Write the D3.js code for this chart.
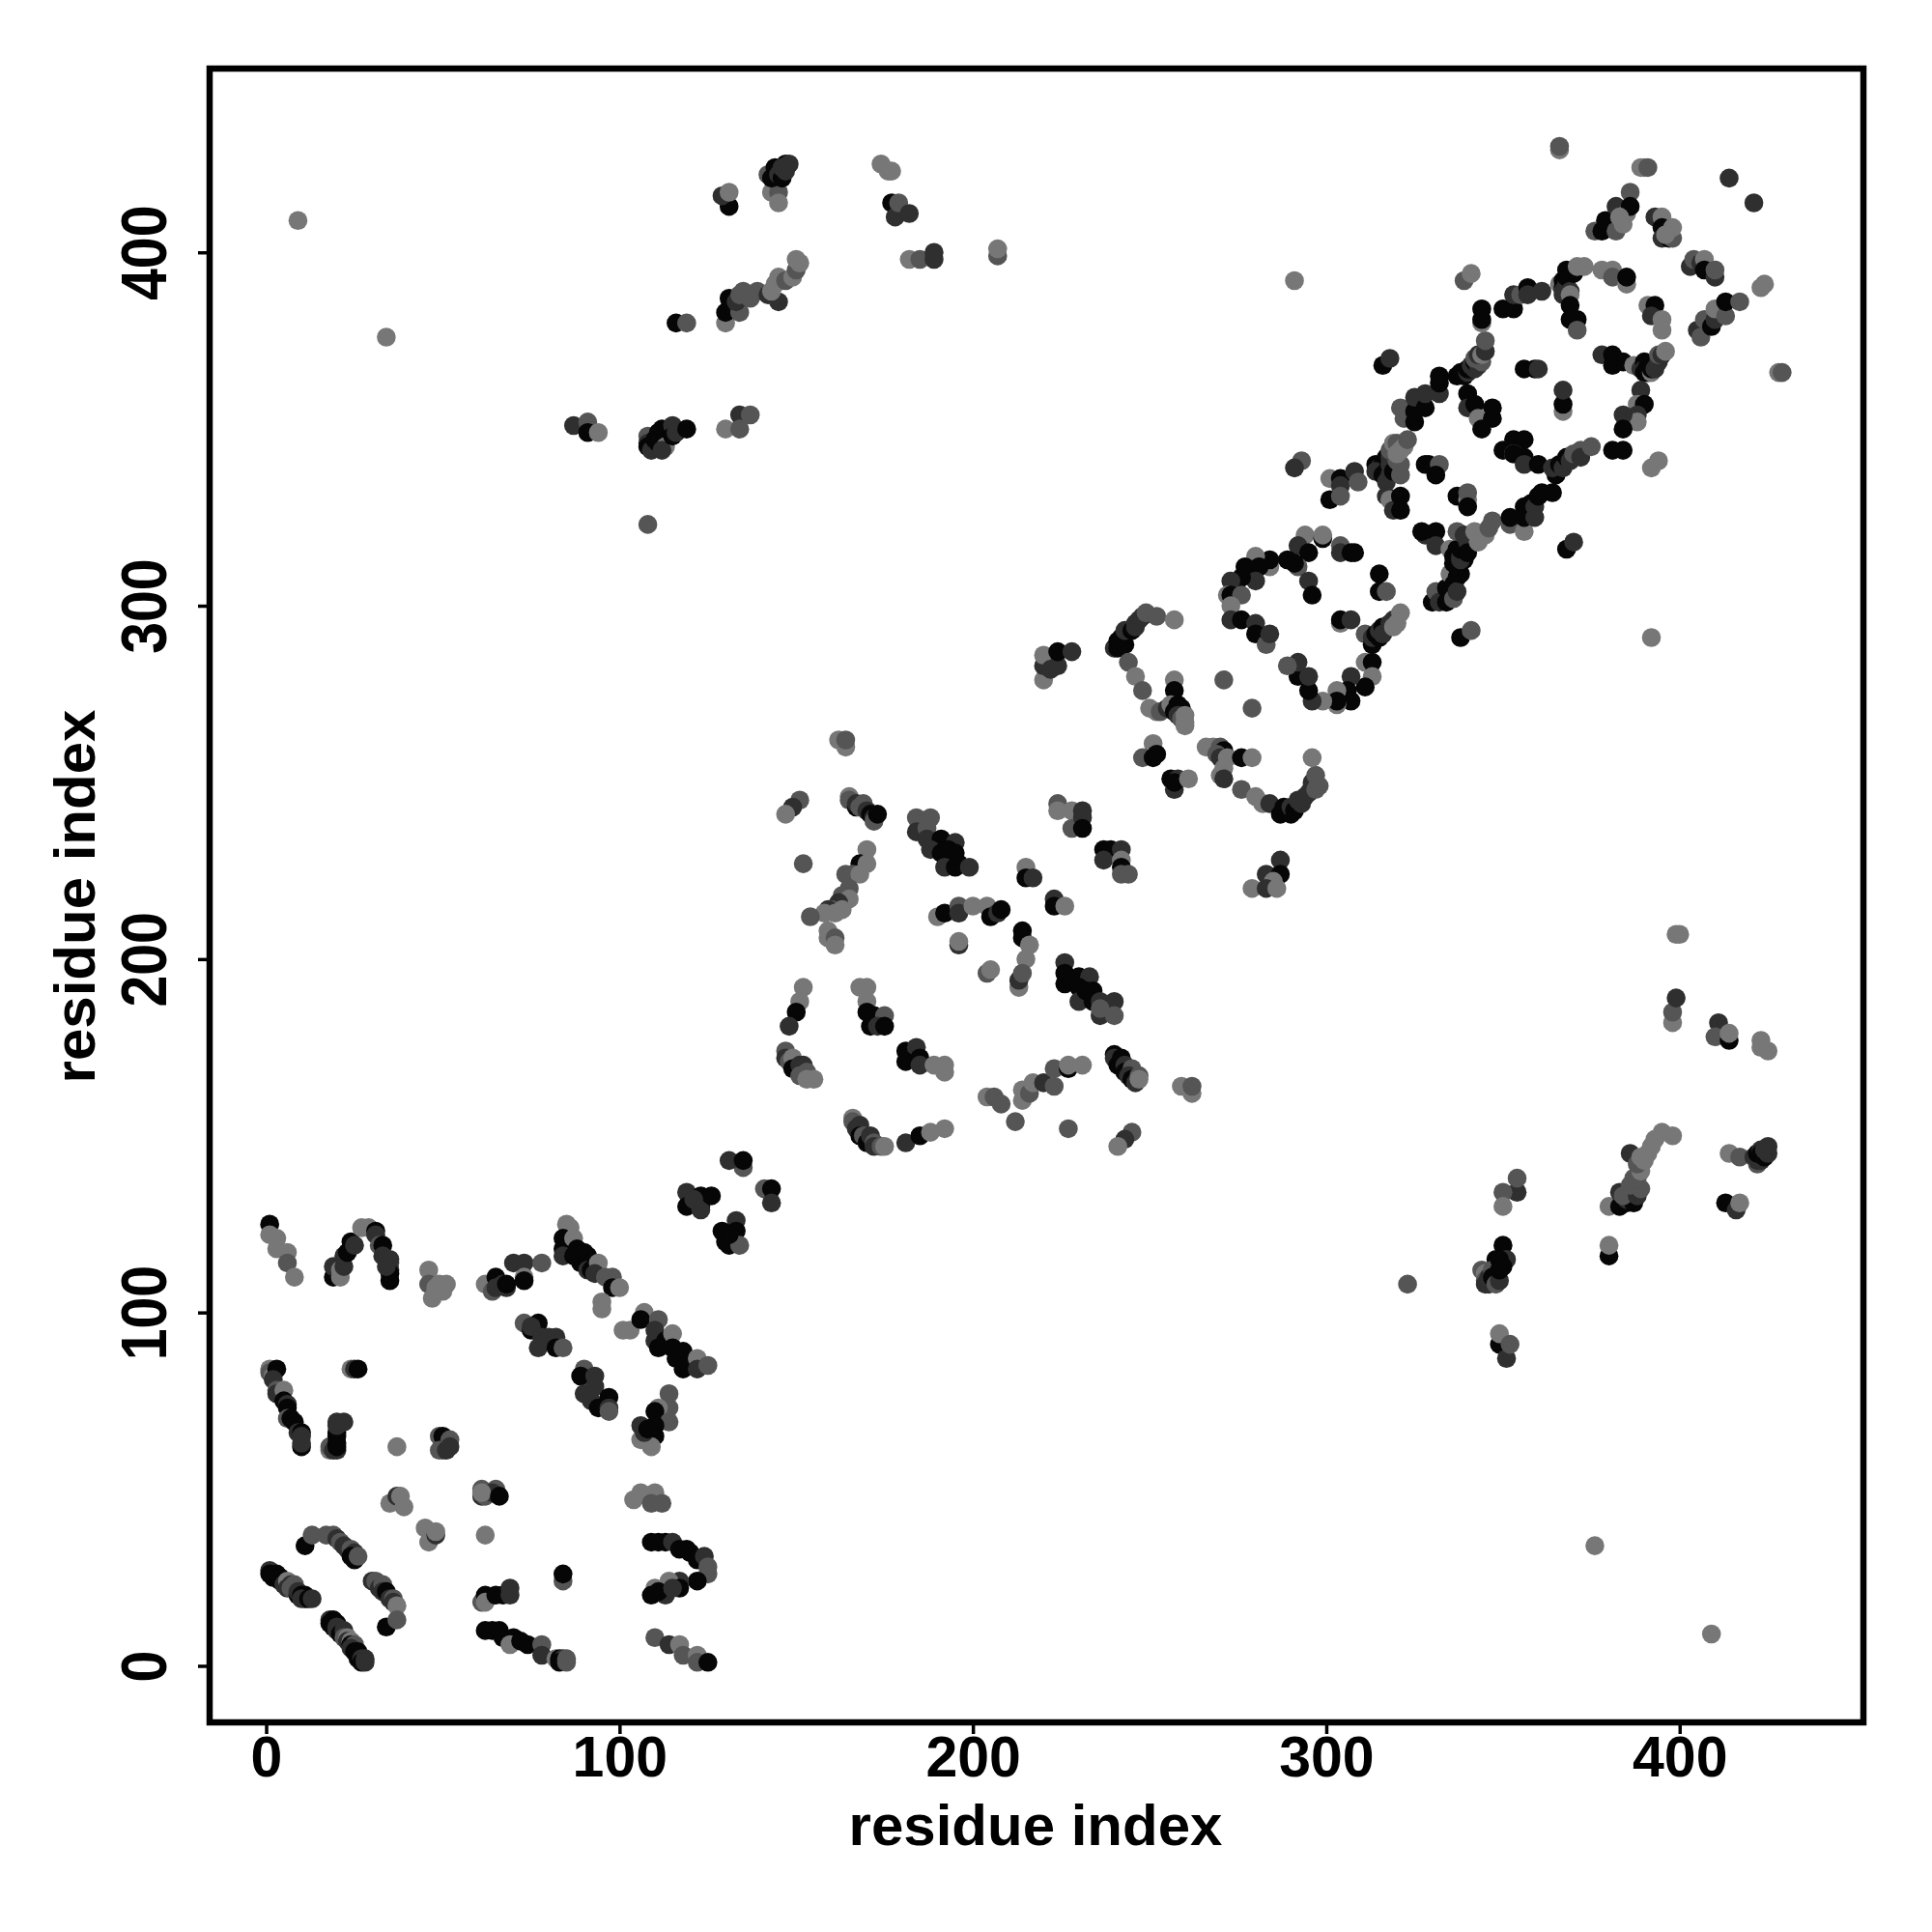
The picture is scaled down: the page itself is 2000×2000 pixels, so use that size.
<!DOCTYPE html>
<html><head><meta charset="utf-8">
<script src="https://cdn.jsdelivr.net/npm/d3@7"></script>
<style>html,body{margin:0;padding:0;background:#fff}svg{display:block}text{font-family:"Liberation Sans",Arial,sans-serif;font-weight:700;fill:#000}</style>
</head><body><div id="chart"></div>
<script>
// Each contact is [residue i, residue j, shade level 0 (darkest) .. 3 (lightest)]
const bottomLeft1=[[1,27,1],[1,26,0],[2,25,0],[3,26,0],[4,24,0],[4,25,0],[5,23,1],[6,24,3],[6,22,1],[7,23,1],[7,22,2],[8,23,2],[9,20,0],[9,21,1],[10,20,0],[11,20,0],[11,19,0],[10,19,1],[12,19,0],[13,19,1],
[18,13,1],[18,12,0],[19,13,0],[19,11,0],[20,12,0],[20,11,1],[20,10,1],[21,9,0],[22,9,0],[22,10,1],[22,8,2],[23,8,3],[23,7,1],[24,7,3],[24,6,0],[25,6,2],[24,5,1],[25,4,0],[26,4,0],[26,3,0],[26,2,0],[27,2,1],[27,1,0],[28,2,1],[28,1,1],
[11,34,0],[13,37,2],[17,37,2],[19,37,2],[20,36,1],[21,35,2],[22,34,1],[23,33,1],[24,33,2],[25,32,1],[24,31,0],[25,30,0],[26,31,2],
[30,24,1],[31,24,2],[32,23,2],[32,22,1],[33,23,2],[33,21,1],[34,21,0],[35,19,1],[36,19,2],[36,18,1],[37,17,3],[34,11,0],[37,13,2]];
const bottomLeft2=[[1,84,3],[1,83,2],[2,82,3],[3,84,0],[2,81,1],[3,78,2],[3,77,1],[5,78,3],[5,75,0],[6,74,1],[6,73,0],[6,70,2],[7,70,0],[8,69,0],[9,66,1],[10,66,0],[10,65,1],[10,62,0],[10,63,1],
[24,84,3],[25,84,1],[26,84,0],[18,61,3],[18,62,2],[19,61,1],[20,61,1],[20,63,0],[20,65,0],[20,66,0],[20,62,0],[20,68,1],[20,69,1],[22,69,1],[37,62,3],
[49,65,2],[50,65,0],[52,64,2],[49,61,2],[50,61,2],[51,61,1],[52,62,1]];
const bottomLeft3=[[1,125,0],[1,122,3],[3,121,3],[3,118,3],[6,117,3],[6,114,2],[8,110,3],
[19,110,0],[19,113,1],[21,112,3],[21,110,3],[22,113,1],[22,116,1],[23,117,0],[24,120,0],[25,119,1],[27,124,3],[29,124,3],[31,123,0],[31,122,1],[32,119,2],[33,119,0],[33,116,1],[35,114,2],[35,115,1],[35,112,1],[35,111,0],[35,109,0],[34,113,1],
[46,112,3],[46,108,2],[48,107,3],[49,108,3],[51,108,3],[47,104,3],[50,106,3],[48,106,3],
[62,108,3],[64,106,2],[65,110,0],[65,107,1],[67,108,1],[68,107,1],[68,108,0],[70,114,1],[73,114,1],[78,114,2],[73,110,3],[73,109,0]];
const bottomLeft4=[[85,125,3],[86,124,3],[84,121,0],[84,118,0],[84,116,1],[87,121,3],[88,118,0],[87,116,0],[89,114,0],[90,117,0],[91,116,0],[91,112,1],[93,113,0],[92,112,0],[94,114,3],[93,111,1],[96,110,2],[98,110,2],[98,107,0],[100,107,3],[95,103,3],[95,101,3],
[73,97,2],[75,95,0],[77,97,0],[75,96,1],[78,93,1],[80,93,1],[82,93,1],[77,90,1],[82,90,0],[84,90,2],
[90,84,2],[89,82,0],[93,82,1],[93,79,1],[90,77,1],[92,75,1],[94,73,0],[97,76,0],[97,73,1],[97,72,2],
[101,95,3],[103,95,3],[107,100,3],[106,98,0],[111,98,2],[110,95,1],[110,92,1],[111,90,0],[113,92,0],[115,94,3],[115,90,0],[118,89,0],[116,87,0],[118,84,0],[119,85,0],[122,87,3],[122,84,1],[125,85,2],
[114,77,2],[114,73,2],[111,73,3],[110,72,0],[114,69,2],[106,68,1],[110,68,0],[110,65,0],[106,64,3],[109,62,3],[107,66,1],[108,67,0]];
const bottomLeft5=[[35,46,3],[37,48,1],[38,48,3],[39,45,3],[45,39,3],[46,35,3],[48,37,1],[48,38,3],
[61,50,2],[61,48,1],[62,48,2],[65,50,2],[64,49,1],[61,49,3],[66,48,0],[62,37,3],
[61,18,2],[62,20,0],[62,18,3],[65,20,0],[67,20,0],[69,22,1],[69,20,1],[84,24,2],[84,26,0],
[62,10,0],[64,10,0],[66,10,0],[67,8,0],[70,8,0],[69,6,3],[72,7,0],[74,6,0],[78,6,2],[78,3,1],[82,2,3],[83,2,0],[84,2,1],[83,1,0],[85,2,2],[85,1,2],
[109,35,0],[111,35,0],[113,35,0],[115,35,1],[117,33,0],[119,33,0],[120,32,0],[122,30,0],[124,31,1],[125,28,2],[125,26,2],[122,24,0],[117,24,1],[114,24,3],[110,22,3],[117,22,0],[113,20,1],[109,20,0],[111,21,0],[115,22,1],
[110,8,2],[114,6,1],[117,6,3],[118,3,2],[122,3,3],[122,1,2],[125,1,0],
[104,47,3],[106,49,3],[110,49,3],[109,46,2],[112,46,2]];
const middleBand=[[119,134,1],[119,130,0],[123,133,0],[123,130,0],[123,129,1],[126,133,0],[121,132,1],[135,141,2],[131,143,1],[135,143,0],[141,135,2],[143,135,0],[143,131,1],
[133,126,1],[129,123,0],[133,123,0],[130,120,0],[131,119,0],[134,119,2],[131,122,0]];
const domainCentre1=[[164,260,3],[162,262,3],[164,262,2],[151,245,2],[149,243,1],[147,241,3],
[165,246,3],[165,245,2],[167,243,0],[167,244,1],[168,243,2],[169,244,2],[170,242,1],[171,241,0],[172,240,1],[172,239,2],[173,241,0],
[152,227,2],[170,231,3],[168,227,0],[170,227,3],[164,224,2],[166,224,2],[168,224,3],[165,220,2],[163,218,2],[165,217,3],[162,216,1],[160,214,2],[159,214,1],[158,213,3],[161,213,3],[163,214,3],[154,212,2],
[159,208,3],[159,206,3],[161,206,2],[161,204,3],
[184,240,2],[188,240,2],[184,236,1],[187,237,2],[187,234,1],[191,234,0],[195,233,1],[188,231,1],[191,230,0],[193,231,0],[195,230,0],[192,226,1],[195,226,0],[196,227,0],[199,226,1],
[224,244,2],[224,242,3],[228,242,3],[231,242,1],[228,237,2],[231,240,1],[231,237,0],
[237,231,0],[239,231,0],[242,231,1],[237,228,1],[242,228,3],[242,226,0],[242,224,2],[244,224,2],[215,226,3],[215,223,0],[217,223,1]];
const domainCentre2=[[190,212,3],[192,213,0],[196,215,2],[196,213,1],[200,215,3],[204,215,3],[205,212,0],[207,213,1],[208,214,0],[196,204,1],[196,205,3],[204,196,2],[205,197,3],
[223,217,1],[223,215,0],[226,215,3],[214,208,0],[214,206,0],[216,204,3],[215,200,3],[213,192,3],[213,194,1],[214,196,2],
[226,199,1],[226,196,0],[226,193,0],[228,194,0],[230,195,0],[233,195,1],[230,192,0],[230,188,1],[232,191,0],[234,191,0],[234,188,0],[236,188,1],[240,188,1],[236,184,1],[240,184,2],[236,186,2],
[152,192,3],[151,188,3],[150,185,0],[148,181,1],[168,192,3],[170,192,3],[170,188,3],[170,185,0],[172,184,0],[175,184,2],[171,181,0],[173,181,1],[175,181,0],
[181,174,0],[184,175,1],[181,171,0],[185,172,0],[185,170,1],[192,168,3],[189,170,3],[192,170,3]];
const domainCentre3=[[147,174,2],[147,172,1],[148,171,2],[149,172,3],[149,169,0],[151,170,1],[152,170,1],[151,167,2],[153,168,2],[153,166,3],[155,166,3],
[204,161,3],[206,161,2],[208,159,2],[214,160,3],[214,163,3],[216,162,2],[217,165,3],[220,165,1],[223,164,2],[223,169,2],[227,169,0],[227,170,3],[231,170,3],
[240,173,0],[240,172,1],[241,170,0],[242,172,0],[243,170,1],[243,168,0],[245,169,2],[244,167,1],[245,166,0],[246,165,1],[247,167,2],[247,166,3],
[259,164,3],[262,162,3],[262,164,2],
[166,155,3],[166,154,2],[167,152,1],[168,153,1],[168,150,0],[169,150,2],[170,148,0],[171,150,1],[172,148,2],[172,147,1],[174,147,2],[175,147,3],
[181,148,1],[185,150,0],[188,151,3],[192,152,3],[212,154,2],[227,152,2],[245,151,2],[243,149,1],[241,147,3]];
const ringLower=[[220,279,3],[220,283,1],[220,286,3],[224,283,1],[222,282,1],[224,287,0],[228,287,1],
[240,288,1],[241,290,0],[241,288,0],[243,289,0],[242,291,0],[243,293,1],[245,293,0],[246,294,1],[246,295,1],[247,296,1],[248,297,1],[249,298,2],[252,297,2],[257,296,3],[244,284,2],[246,280,3],[248,276,2],
[257,279,3],[257,276,0],[250,271,3],[252,270,3],[253,270,2],[255,271,1],[256,272,3],[257,270,0],[258,272,0],[259,271,0],[258,269,1],[259,268,2],[260,269,3],[260,267,3],[260,266,3],
[271,279,2],[279,271,2],[251,261,3],[248,257,2],[251,257,0],[252,258,0],[256,251,0],[258,251,1],[257,248,1],[257,250,0],[261,251,3],
[266,260,3],[268,260,3],[270,260,2],[271,259,0],[269,258,2],[270,257,1],[272,257,3],[271,254,3],[270,252,3],[271,251,1],[276,257,0],[279,257,3],
[276,248,2],[280,246,3],[282,244,3],[284,244,1],[287,241,0],[288,243,0],[290,241,0],[290,243,1],[291,242,0],[292,245,1],[293,244,1],[294,246,1],[295,247,1],[296,249,1],[296,250,1],[297,248,2],[297,252,2],[298,249,2],[296,257,3],
[287,228,1],[283,224,1],[287,224,0],[285,222,3],[279,220,3],[283,220,1],[286,220,3]];
const ringOne=[[294,320,3],[299,319,0],[299,320,3],[292,317,1],[295,315,0],[289,313,0],[292,311,2],[291,312,0],[284,311,3],[284,313,0],[280,314,3],[281,311,0],[277,311,0],[280,307,1],[276,308,0],[273,307,1],[272,303,3],[273,303,0],[276,303,2],[273,300,3],
[273,296,1],[276,296,0],[280,295,1],[280,292,0],[283,289,2],[284,292,1],[295,307,1],[296,303,0],
[304,317,2],[304,315,1],[307,315,0],[308,315,0],[315,309,0],[315,304,0],[317,304,2],[304,295,3],[304,296,0],[307,296,1],
[311,292,2],[313,289,0],[313,291,1],[314,292,0],[315,291,0],[315,293,1],[316,294,0],[316,292,1],[318,295,1],[319,296,1],[319,294,3],[320,295,3],[321,298,3],
[311,284,3],[313,284,0],[313,280,3],[311,277,0],[307,280,1],[306,276,0],[307,273,0],[303,276,3],[303,272,3],[303,273,0],[299,273,3],[296,273,1],[295,276,0],[292,280,0],[295,280,1],[292,284,1],[289,283,2]];
const ringTwo=[[293,341,2],[291,339,1],[301,336,3],[301,330,0],[304,336,0],[304,334,1],[304,331,2],[308,338,1],[309,335,2],[314,340,0],[315,339,1],[316,340,0],[314,338,1],[316,337,0],[317,338,0],[318,337,1],[317,335,1],[317,342,0],[318,342,1],[318,340,1],[319,338,0],[318,344,2],[320,341,2],[321,337,2],[321,340,2],[319,346,3],[320,346,2],[320,343,3],[321,344,3],[322,345,3],[323,347,2],
[322,353,2],[321,356,2],[325,352,0],[325,355,0],[325,359,1],[328,356,0],[328,360,1],[332,360,1],[332,363,0],[332,365,0],[316,368,0],[318,370,1],
[317,331,1],[318,330,3],[319,327,1],[321,331,0],[321,327,0],[328,320,1],[327,321,0],[331,321,0],[331,317,1],[329,340,0],[328,340,0],[332,340,2],[331,337,0],[337,331,0],[340,330,3],[340,332,2],[340,328,0],
[330,301,0],[331,304,2],[332,301,1],[334,305,0],[334,301,0],[336,302,2],[335,309,3],[336,306,0],[337,308,0],[337,304,1],[338,309,0],[368,316,0],[370,318,1],[338,291,0],[341,293,2],[392,291,3],
[335,316,3],[336,314,0],[337,316,0],[337,311,0],[336,312,0],[339,313,0],[338,314,1],[338,313,1],[338,316,0],[339,318,0],[340,318,1],[337,321,2],[339,320,1],[340,315,0],[342,321,3],[343,318,3],[345,320,3],[346,322,2],[347,324,2],
[352,323,2],[352,325,0],[356,321,3],[356,325,0],[356,328,0],[358,329,0],[359,325,1],[359,328,1],[360,331,0],[361,332,0],[364,332,0],
[340,360,0],[340,356,1],[342,357,0],[347,356,0],[343,353,3],[347,353,0],[344,350,0],[350,344,0],[353,347,0],[356,347,0],[353,343,3],[353,343,0],[356,342,0],[356,340,1],[360,340,0],
[365,337,0],[364,339,1],[366,340,0],[367,339,1],[368,342,0],[369,341,1],[370,343,2],[372,344,2],[372,342,1],[375,345,2],[392,339,3],[394,341,3]];
const ringThree=[[337,365,0],[338,366,0],[339,365,0],[340,366,1],[340,367,0],[341,367,0],[341,368,1],[342,367,1],[342,369,0],[343,368,1],[342,370,2],[344,369,2],[343,371,1],[344,371,3],[345,372,1],[345,375,2],[344,380,3],[344,381,0],[344,384,0],
[350,384,0],[353,384,0],[353,388,1],[355,388,2],[357,390,0],[357,388,1],[361,389,1],[339,392,2],[341,394,3],[291,392,3],
[366,391,3],[367,392,0],[367,390,0],[368,391,1],[367,389,1],[368,390,1],[367,388,1],[368,393,0],[369,389,1],[370,394,0],[368,395,0],[371,396,3],[373,396,3],[369,388,3],[369,385,0],[369,381,0],[371,381,0],[371,378,2],
[378,395,3],[381,395,3],[381,393,2],[385,391,3],[385,393,0],[391,385,3],[393,385,0],[392,382,1],[395,381,3],[395,378,3],
[378,371,1],[381,371,0],[381,368,0],[384,369,0],[387,368,3],[389,367,1],[390,369,0],[390,367,1],[390,366,0],[391,368,0],[391,366,0],[392,366,3],[392,367,0],[393,368,0],[393,367,1],[394,369,1],[394,371,2],[395,371,1],[396,372,3],
[389,361,1],[388,357,3],[390,357,0],[388,354,1],[388,352,3],[384,354,1],[384,350,0],[381,344,0],[384,344,0],
[356,367,0],[359,367,0],[360,367,1],[367,355,3],[367,357,0],[367,361,1],
[366,429,3],[366,430,2],[389,424,3],[390,424,3],[391,424,2],[386,417,2],[414,421,1],[421,414,1],
[376,406,2],[378,406,0],[380,407,0],[379,409,0],[382,413,1],[382,406,2],[384,408,3],[385,411,3],[386,413,0],[383,410,3],
[393,410,1],[395,410,3],[395,407,0],[395,404,1],[397,404,0],[398,404,2],[398,407,3],[396,405,3],
[403,396,1],[404,398,2],[406,397,1],[407,398,3],[407,395,0],[410,393,1],[410,395,2],[423,390,3],[424,391,3],
[405,378,1],[406,376,2],[407,381,2],[409,379,0],[410,381,1],[410,384,3],[413,382,2],[413,386,0],[417,386,2],[428,366,3],[429,366,2]];
const upperLeft=[[9,409,3],[34,376,3],[108,323,2],[87,351,1],[91,352,2],[91,349,0],[94,349,3],
[108,348,2],[108,346,1],[108,345,0],[109,344,1],[110,347,0],[111,349,0],[112,350,0],[111,346,0],[113,345,3],[112,344,1],[115,351,1],[115,348,0],[116,349,1],[119,350,0],
[134,354,1],[137,354,2],[130,350,3],[134,350,2],[116,380,0],[119,380,2],
[130,380,3],[130,383,0],[131,384,0],[131,387,0],[132,385,0],[134,383,2],[133,386,1],[134,388,2],[135,389,2],[137,387,2],[139,389,2],[142,388,1],[145,386,1],[143,389,3],[144,391,3],[145,393,3],[147,392,2],[149,393,3],[150,395,2],[151,397,3],[150,398,3],
[131,413,0],[129,416,1],[131,417,3],[143,417,3],[145,417,2],[145,414,3],[142,422,2],[143,421,0],[144,424,0],[145,422,1],[146,421,0],[147,423,1],[147,425,0],[148,425,1],[146,424,1],
[174,425,3],[176,423,3],[177,423,3],[177,414,0],[178,410,1],[179,414,2],[182,411,1],[182,398,3],[185,398,2],[189,398,1],[189,400,1],[207,399,2],[207,401,3]];
const lowerRight=[[400,207,3],[399,207,3],[398,182,3],[398,185,2],[399,189,1],[411,182,1],[410,178,2],[414,177,0],[414,179,3],[423,177,3],[423,175,3],[425,174,3],
[380,130,3],[383,130,0],[383,134,1],[385,131,0],[385,132,1],[387,131,0],[384,133,2],[388,133,1],[389,135,2],[386,136,2],[387,138,2],[388,138,2],[389,140,3],[386,145,1],[388,142,2],[390,143,3],[389,144,3],[391,145,3],[392,147,3],[393,149,3],[395,151,3],[398,150,3],
[414,145,3],[417,144,2],[421,144,1],[422,142,2],[422,143,1],[423,143,1],[422,145,0],[424,144,0],[423,146,1],[423,145,0],[425,145,1],[424,146,1],[425,147,1],[413,131,0],[416,129,1],[417,131,3],
[354,134,1],[354,138,2],[350,134,2],[350,130,3],[380,116,0],[380,119,3],
[323,108,2],[350,119,0],[351,115,1],[348,115,0],[344,112,2],[345,111,3],[345,109,2],[345,108,1],[346,110,1],[346,109,1],[346,108,1],[347,112,2],[347,110,0],[348,110,0],[348,108,2],[349,109,1],[349,115,0],[350,113,0],[349,112,0],
[349,91,0],[349,94,3],[351,87,1],[352,91,2],[376,34,3],[409,9,3]];

const tickValues=[0,100,200,300,400];
const axisTitle="residue index";
const shadeColours=["#060606","#2f2f2f","#555555","#777777"];

const contacts=[].concat(bottomLeft1,bottomLeft2,bottomLeft3,bottomLeft4,bottomLeft5,middleBand,domainCentre1,domainCentre2,domainCentre3,ringLower,ringOne,ringTwo,ringThree,upperLeft,lowerRight);

const x=d3.scaleLinear().domain([-16,452]).range([217,1929]);
const y=d3.scaleLinear().domain([-16,452]).range([1783,71]);
const svg=d3.select("#chart").append("svg").attr("width",2000).attr("height",2000);

svg.append("g").selectAll("circle").data(contacts).join("circle")
  .attr("cx",d=>x(d[0])).attr("cy",d=>y(d[1])).attr("r",9.8)
  .attr("fill",d=>shadeColours[d[2]]);

const xAxis=svg.append("g").attr("transform","translate(0,1783)")
  .call(d3.axisBottom(x).tickValues(tickValues).tickSize(12).tickFormat(d3.format("d")));
const yAxis=svg.append("g").attr("transform","translate(217,0)")
  .call(d3.axisLeft(y).tickValues(tickValues).tickSize(12).tickFormat(d3.format("d")));
[xAxis,yAxis].forEach(a=>{a.select(".domain").remove();a.selectAll("line").attr("stroke","#000").attr("stroke-width",3.5);
  a.selectAll("text").style("font-family",'"Liberation Sans",Arial,sans-serif').style("font-weight",700).style("font-size","59px").attr("fill","#000");});
xAxis.selectAll("text").attr("y",56).attr("dy",0);
yAxis.selectAll("text").attr("x",0).attr("y",0).attr("dy",0).attr("text-anchor","middle")
  .attr("transform","translate(-45,0) rotate(-90) scale(1,1.12)");

svg.append("rect").attr("x",217).attr("y",71).attr("width",1712).attr("height",1712)
  .attr("fill","none").attr("stroke","#000").attr("stroke-width",6.5);

svg.append("text").attr("x",1072).attr("y",1910).attr("text-anchor","middle").style("font-size","60px").text(axisTitle);
svg.append("text").attr("transform","translate(98,928) rotate(-90)").attr("text-anchor","middle").style("font-size","60px").text(axisTitle);
</script></body></html>
